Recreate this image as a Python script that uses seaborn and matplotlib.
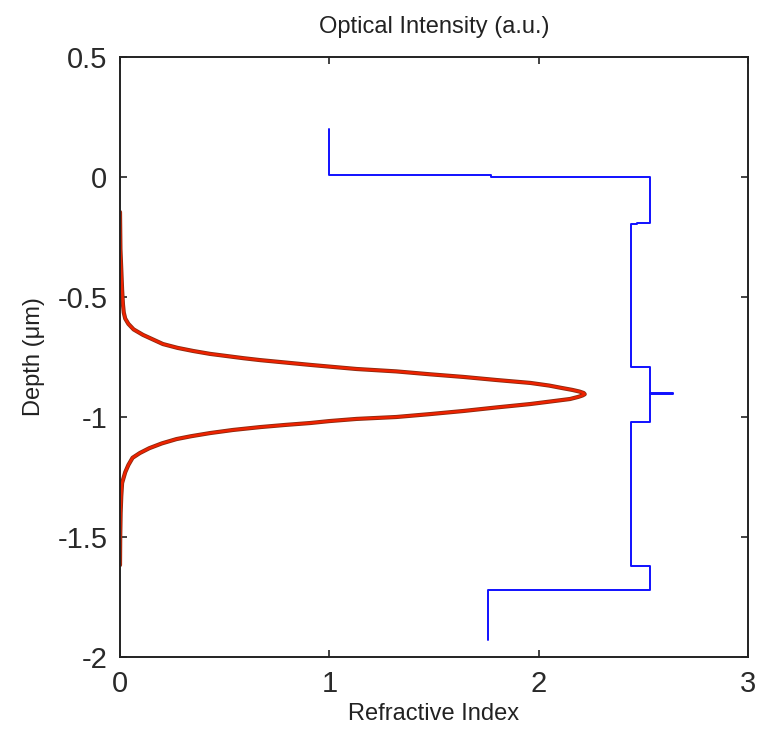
import matplotlib
matplotlib.use("Agg")
import matplotlib.pyplot as plt
import seaborn as sns
import pandas as pd

# ---- data ----
# optical intensity profile (a.u.) vs depth (um)
intensity_depth = [-0.146, -0.30, -0.47, -0.53, -0.565, -0.59, -0.612, -0.635, -0.658,
                   -0.68, -0.696, -0.712, -0.725, -0.737, -0.746, -0.755, -0.763, -0.773,
                   -0.783, -0.79, -0.80, -0.81, -0.822, -0.833, -0.846, -0.858, -0.869,
                   -0.879, -0.887, -0.894, -0.900, -0.905, -0.910, -0.916, -0.925, -0.935,
                   -0.946, -0.960, -0.975, -0.988, -1.0, -1.008, -1.017, -1.025, -1.033,
                   -1.042, -1.054, -1.067, -1.080, -1.092, -1.110, -1.13, -1.15, -1.17,
                   -1.20, -1.23, -1.275, -1.33, -1.40, -1.50, -1.617]
intensity_value = [0.0, 0.002, 0.01, 0.014, 0.018, 0.025, 0.04, 0.065, 0.11,
                   0.165, 0.205, 0.275, 0.35, 0.43, 0.51, 0.59, 0.67, 0.79,
                   0.91, 1.0, 1.13, 1.32, 1.48, 1.64, 1.80, 1.96, 2.05,
                   2.11, 2.16, 2.195, 2.215, 2.22, 2.21, 2.19, 2.15, 2.06,
                   1.96, 1.80, 1.64, 1.48, 1.32, 1.13, 1.0, 0.91, 0.79,
                   0.67, 0.54, 0.43, 0.34, 0.27, 0.20, 0.14, 0.095, 0.06,
                   0.04, 0.025, 0.01, 0.006, 0.003, 0.001, 0.0]

# refractive index step profile vs depth (um)
index_value = [1.0, 1.0, 1.77, 1.77, 2.53, 2.53, 2.47, 2.47, 2.44, 2.44, 2.53, 2.53,
               2.64, 2.64, 2.53, 2.53, 2.44, 2.44, 2.53, 2.53, 1.76, 1.76]
index_depth = [0.2, 0.01, 0.01, 0.0, 0.0, -0.19, -0.19, -0.196, -0.196, -0.79, -0.79, -0.898,
               -0.898, -0.904, -0.904, -1.02, -1.02, -1.62, -1.62, -1.72, -1.72, -1.93]

x_ticks = [0, 1, 2, 3]
x_tick_labels = ["0", "1", "2", "3"]
y_ticks = [0.5, 0, -0.5, -1, -1.5, -2]
y_tick_labels = ["0.5", "0", "-0.5", "-1", "-1.5", "-2"]

title_text = "Optical Intensity (a.u.)"
x_label = "Refractive Index"
y_label = "Depth (\u03bcm)"

# ---- plotting ----
sns.set_theme(style="white")
plt.rcParams['font.family'] = ['Liberation Sans', 'DejaVu Sans']

fig = plt.figure(figsize=(7.6, 7.32), dpi=100)
ax = fig.add_axes([120 / 760, 1 - 657 / 732, (748 - 120) / 760, (657 - 57) / 732])

df_int = pd.DataFrame({"x": intensity_value, "y": intensity_depth})
df_idx = pd.DataFrame({"x": index_value, "y": index_depth})

sns.lineplot(data=df_idx, x="x", y="y", sort=False, estimator=None, ax=ax,
             color="#1010ff", linewidth=1.4)
sns.lineplot(data=df_int, x="x", y="y", sort=False, estimator=None, ax=ax,
             color="#8a2a10", linewidth=3.0)
sns.lineplot(data=df_int, x="x", y="y", sort=False, estimator=None, ax=ax,
             color="#ee2200", linewidth=1.8)

ax.set_xlim(0, 3)
ax.set_ylim(-2, 0.5)
ax.set_xticks(x_ticks)
ax.set_xticklabels(x_tick_labels)
ax.set_yticks(y_ticks)
ax.set_yticklabels(y_tick_labels)

ax.tick_params(axis="both", direction="in", length=5, width=1.2, color="#222222",
               labelsize=21, labelcolor="#2a2a2a", top=True, right=True,
               bottom=True, left=True)
ax.tick_params(axis="x", pad=9)
ax.tick_params(axis="y", pad=9)
for s in ax.spines.values():
    s.set_visible(True)
    s.set_color("#222222")
    s.set_linewidth(1.4)

ax.set_title(title_text, fontsize=17, color="#222222", pad=17)
ax.set_xlabel(x_label, fontsize=17, color="#222222", labelpad=4)
ax.set_ylabel(y_label, fontsize=17, color="#222222", labelpad=9)

fig.savefig("out.png", dpi=100)
